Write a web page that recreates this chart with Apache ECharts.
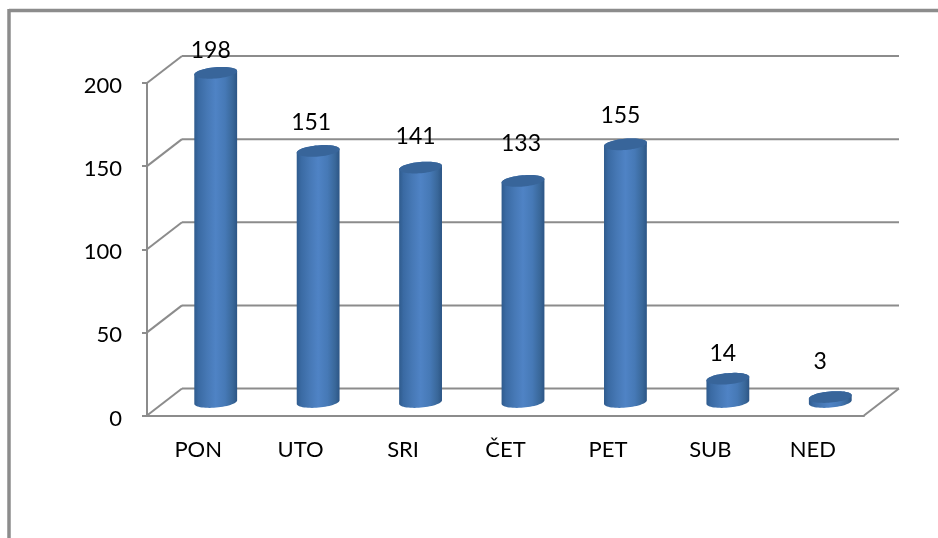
<!DOCTYPE html>
<html><head><meta charset="utf-8">
<style>html,body{margin:0;padding:0;background:#fff}#c{width:938px;height:538px}</style>
<script src="https://cdn.jsdelivr.net/npm/echarts@6/dist/echarts.min.js"></script>
</head><body><div id="c"></div>
<script>
const categories = ['PON','UTO','SRI','ČET','PET','SUB','NED'];
const counts = [198,151,141,133,155,14,3];
const wallTicks = [0,50,100,150,200];
// hand-placed label shifts of the original, relative to a label sitting on the cylinder top
const labelShiftX = [-5,-7,-5,-2,-5,-5,-10];
const labelShiftY = [-1,-7,-10,-16,-7,-4,-14];

const GREY = '#8c8c8c';
const FONT = 'Lato, Carlito, Calibri, sans-serif';
const DX = 35, DY = -27;          // depth of the 3D box
const RX = 21.5, RY = 5.6, TILT = -5 * Math.PI / 180;

function arc(cx, cy, from, to, n) {
  const pts = [];
  for (let i = 0; i <= n; i++) {
    const t = from + (to - from) * i / n;
    const ex = RX * Math.cos(t), ey = RY * Math.sin(t);
    pts.push([cx + ex * Math.cos(TILT) - ey * Math.sin(TILT),
              cy + ex * Math.sin(TILT) + ey * Math.cos(TILT)]);
  }
  return pts;
}

function renderWall(params, api) {
  const v = api.value(0);
  const cs = params.coordSys;
  const y = api.coord([0, v])[1];
  const ls = {stroke: GREY, lineWidth: 2, fill: null};
  const children = [
    {type:'line', shape:{x1:cs.x, y1:y, x2:cs.x+DX, y2:y+DY}, style:ls},
    {type:'line', shape:{x1:cs.x+DX, y1:y+DY, x2:cs.x+cs.width+DX, y2:y+DY}, style:ls}
  ];
  if (v === 0) children.push({type:'line', shape:{x1:cs.x+cs.width, y1:y, x2:cs.x+cs.width+DX, y2:y+DY}, style:ls});
  return {type:'group', children};
}

function renderCyl(params, api) {
  const i = api.value(0), v = api.value(1);
  const top = api.coord([i, v]), bot = api.coord([i, 0]);
  const cx = bot[0] + DX / 2;
  const yT = top[1] + DY / 2, yB = bot[1] + DY / 2;
  const lower = arc(cx, yB, Math.PI, 0, 30);
  const upper = arc(cx, yT, 0, -Math.PI, 30);
  return {type:'group', children:[
    {type:'polygon', shape:{points: lower.concat(upper)}, style:{
      fill:{type:'linear',x:0,y:0,x2:1,y2:0,colorStops:[
        {offset:0,color:'#2f5b8d'},{offset:0.1,color:'#3a6aa3'},{offset:0.3,color:'#4678b5'},
        {offset:0.5,color:'#4f83c5'},{offset:0.72,color:'#4679b6'},{offset:0.9,color:'#396799'},{offset:1,color:'#2c5585'}]}}},
    {type:'polygon', shape:{points: arc(cx, yT, 0, 2*Math.PI, 60)}, style:{fill:'#38659a'}},
    {type:'text', style:{text:String(v), x:cx+labelShiftX[i], y:yT-10+labelShiftY[i],
      align:'center', verticalAlign:'bottom', fill:'#000', font:'23px '+FONT}}
  ]};
}

const chart = echarts.init(document.getElementById('c'), null, {renderer:'canvas'});
chart.setOption({
  animation:false,
  backgroundColor:'#fff',
  grid:{left:147, right:74, top:83, bottom:122.5, containLabel:false},
  xAxis:{type:'category', data:categories, boundaryGap:true,
    axisLine:{lineStyle:{color:GREY,width:2}}, axisTick:{show:false},
    axisLabel:{color:'#000',fontFamily:FONT,fontSize:22,margin:23}},
  yAxis:{type:'value', min:0, max:200, interval:50,
    axisLine:{show:true,lineStyle:{color:GREY,width:2}},
    axisTick:{show:true,length:5,lineStyle:{color:GREY,width:2}},
    splitLine:{show:false},
    axisLabel:{color:'#000',fontFamily:FONT,fontSize:22,margin:25,
      formatter:'{n|{value}}',rich:{n:{fontFamily:FONT,fontSize:22,color:'#000',padding:[6,0,0,0]}}}},
  graphic:[
    {type:'line', shape:{x1:9,y1:10.5,x2:938,y2:10.5}, style:{stroke:GREY,lineWidth:3.5}},
    {type:'line', shape:{x1:9,y1:9,x2:9,y2:538}, style:{stroke:GREY,lineWidth:3.5}}
  ],
  series:[
    {type:'custom', coordinateSystem:'cartesian2d', z:1, silent:true, clip:false,
      renderItem:renderWall, encode:{y:0},
      data:wallTicks.map(v=>[v])},
    {type:'custom', coordinateSystem:'cartesian2d', z:3, silent:true, clip:false,
      renderItem:renderCyl, encode:{x:0,y:1},
      data:counts.map((v,i)=>[i,v])}
  ]
});
</script></body></html>
